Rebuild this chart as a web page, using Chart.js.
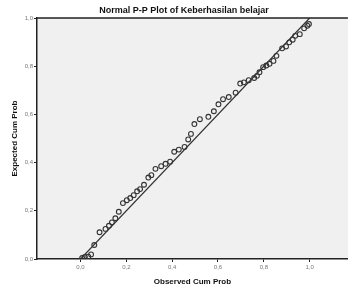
<!DOCTYPE html>
<html>
<head>
<meta charset="utf-8">
<script src="https://cdn.jsdelivr.net/npm/chart.js@4"></script>
<style>
  html, body { margin: 0; padding: 0; background: #fff; }
  #wrap { width: 353px; height: 287px; position: relative; }
</style>
</head>
<body>
<div id="wrap"><canvas id="ppChart"></canvas></div>
<script>
// observed vs expected cumulative probability
const observed = [0.007, 0.019, 0.034, 0.046, 0.060, 0.083, 0.109, 0.124, 0.137, 0.152,
    0.167, 0.185, 0.202, 0.217, 0.232, 0.247, 0.260, 0.277, 0.296, 0.309,
    0.327, 0.352, 0.371, 0.391, 0.409, 0.429, 0.454, 0.470, 0.482, 0.497,
    0.521, 0.558, 0.582, 0.602, 0.622, 0.647, 0.677, 0.697, 0.713, 0.734,
    0.758, 0.770, 0.781, 0.797, 0.811, 0.825, 0.842, 0.855, 0.880, 0.897,
    0.911, 0.926, 0.937, 0.957, 0.976, 0.990, 0.997];
const expected = [0.004, 0.008, 0.010, 0.019, 0.058, 0.111, 0.125, 0.138, 0.152, 0.169,
    0.196, 0.232, 0.244, 0.253, 0.265, 0.281, 0.290, 0.308, 0.338, 0.348,
    0.374, 0.385, 0.395, 0.404, 0.445, 0.454, 0.465, 0.496, 0.519, 0.560,
    0.580, 0.590, 0.613, 0.642, 0.663, 0.672, 0.690, 0.728, 0.733, 0.742,
    0.751, 0.760, 0.775, 0.796, 0.803, 0.810, 0.822, 0.843, 0.874, 0.882,
    0.899, 0.910, 0.926, 0.933, 0.957, 0.968, 0.975];
const tickValues = [0, 0.2, 0.4, 0.6, 0.8, 1.0];
const refLine = [0, 1];

const FONT = "'Liberation Sans', Arial, sans-serif";
const fmt = v => v.toFixed(1).replace('.', ',');

// grey plot area, top frame line and the title
const plotFrame = {
    id: 'plotFrame',
    beforeDraw(chart) {
        const { ctx, chartArea: a } = chart;
        ctx.save();
        ctx.fillStyle = '#f0f0f0';
        ctx.fillRect(a.left, a.top, a.right - a.left, a.bottom - a.top);
        ctx.restore();
    },
    afterDraw(chart) {
        const { ctx, chartArea: a } = chart;
        ctx.save();
        ctx.strokeStyle = '#222';
        ctx.lineWidth = 1.5;
        ctx.beginPath();
        ctx.moveTo(a.left, a.top);
        ctx.lineTo(a.right, a.top);
        ctx.stroke();
        ctx.fillStyle = '#111';
        ctx.font = "bold 9px " + FONT;
        ctx.textAlign = 'center';
        ctx.textBaseline = 'middle';
        ctx.fillText('Normal P-P Plot of Keberhasilan belajar', 184, 11);
        ctx.restore();
    }
};

new Chart(document.getElementById('ppChart'), {
    type: 'scatter',
    data: {
        datasets: [{
            data: observed.map((x, i) => ({ x: x, y: expected[i] })),
            pointStyle: 'circle',
            pointRadius: 2.4,
            pointBorderWidth: 1.1,
            borderColor: '#333',
            backgroundColor: 'rgba(0,0,0,0)',
            order: 1
        }, {
            type: 'line',
            data: refLine.map(v => ({ x: v, y: v })),
            borderColor: '#333',
            borderWidth: 1.2,
            pointRadius: 0,
            fill: false,
            order: 2
        }]
    },
    options: {
        responsive: true,
        maintainAspectRatio: false,
        animation: false,
        layout: { padding: { top: 18, right: 0, left: 0, bottom: 0 } },
        plugins: {
            legend: { display: false },
            tooltip: { enabled: false }
        },
        scales: {
            x: {
                type: 'linear',
                min: -0.19,
                max: 1.167,
                afterFit: s => { s.height = 28; },
                afterBuildTicks: s => { s.ticks = tickValues.map(v => ({ value: v })); },
                grid: { display: true, drawOnChartArea: false, drawTicks: true, tickLength: 3, tickColor: '#222' },
                border: { display: true, color: '#222', width: 1.5 },
                ticks: { color: '#777', font: { family: FONT, size: 6 }, padding: 2, maxRotation: 0, callback: v => fmt(v) },
                title: { display: true, text: 'Observed Cum Prob', color: '#111', font: { family: FONT, size: 8, weight: 'bold' }, padding: { top: 2, bottom: 0 } }
            },
            y: {
                min: 0,
                max: 1,
                afterFit: s => { s.width = 37; },
                afterBuildTicks: s => { s.ticks = tickValues.map(v => ({ value: v })); },
                grid: { display: true, drawOnChartArea: false, drawTicks: true, tickLength: 3, tickColor: '#222' },
                border: { display: true, color: '#222', width: 1.5 },
                ticks: { color: '#777', font: { family: FONT, size: 6 }, padding: 1, callback: v => fmt(v) },
                title: { display: true, text: 'Expected Cum Prob', color: '#111', font: { family: FONT, size: 8, weight: 'bold' }, padding: { top: 10, bottom: 0 } }
            }
        }
    },
    plugins: [plotFrame]
});
</script>
</body>
</html>
